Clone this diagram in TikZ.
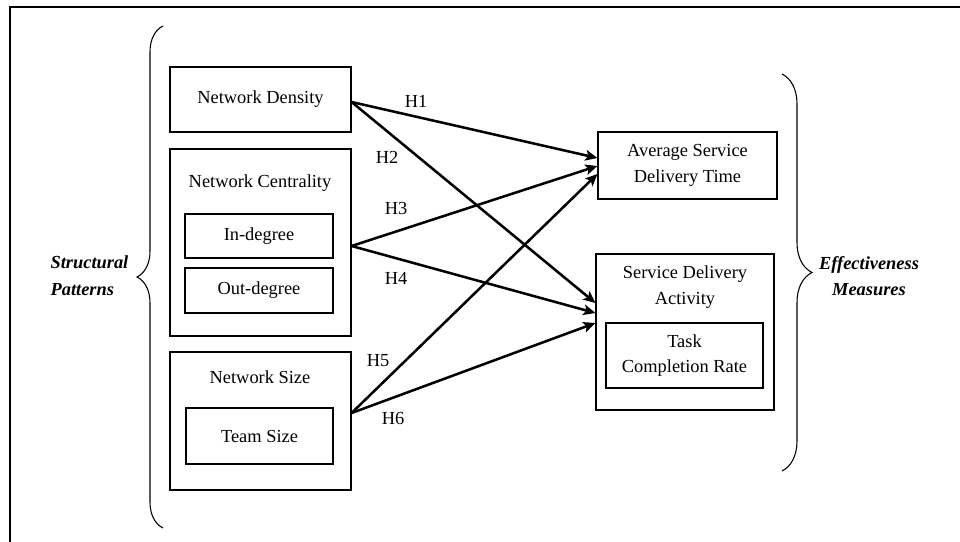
\documentclass[tikz,border=0pt]{standalone}
\usepackage{fontspec}
\setmainfont{Liberation Serif}
\usetikzlibrary{arrows.meta,calc,decorations.pathreplacing}
\begin{document}
\begin{tikzpicture}[x=0.75pt,y=0.75pt,yscale=-1,xscale=1,
  font=\fontsize{13.8}{19}\selectfont,
  box/.style={draw,line width=0.9pt,inner sep=0pt,align=center},
  lbl/.style={inner sep=0.75pt,align=center},
  hyp/.style={inner sep=0.75pt},
  arr/.style={line width=1.9pt,-{Stealth[length=9pt,width=8pt,inset=2pt]}},
  brc/.style={decorate,line width=0.8pt,decoration={brace,amplitude=#1}}]
\useasboundingbox (0,0) rectangle (960,542);

% Frame
\draw[line width=1.5pt] (960,7) -- (10,7) -- (10,542);

% Left side
\node[box,minimum width=135.75pt,minimum height=48.75pt] (dens) at (260.5,99.5) {Network Density};
\node[box,minimum width=135.75pt,minimum height=140.25pt] (cent) at (260.5,242.5) {};
\node[lbl] (centlbl) at (260,183) {Network Centrality};
\node[box,minimum width=111pt,minimum height=33pt] (indeg) at (259,236) {In-degree};
\node[box,minimum width=111pt,minimum height=33.75pt] (outdeg) at (259,290.5) {Out-degree};
\node[box,minimum width=135.75pt,minimum height=103.5pt] (size) at (260.5,421) {};
\node[lbl] (sizelbl) at (260,377) {Network Size};
\node[box,minimum width=110.25pt,minimum height=42pt] (team) at (259.5,436) {Team Size};

% Right side
\node[box,minimum width=134.25pt,minimum height=50.25pt] (avg) at (687.5,165.5) {Average Service\\Delivery Time};
\node[box,minimum width=133.5pt,minimum height=117pt] (act) at (685,332) {};
\node[lbl] (actlbl) at (685,287) {Service Delivery\\Activity};
\node[box,minimum width=117.75pt,minimum height=48.75pt] (task) at (684.5,355.5) {Task\\Completion Rate};

% Braces and group labels
\draw[brc=19.5pt] (163,528) -- (163,26);
\draw[brc=22.5pt] (782,74) -- (782,471);
\node[lbl,align=left,font=\fontsize{13.8}{20}\selectfont\bfseries\itshape] (struct) at (89.5,276) {Structural\\Patterns};
\node[lbl,font=\fontsize{13.8}{20}\selectfont\bfseries\itshape] (effect) at (869,276) {Effectiveness\\Measures};

% Hypotheses
\draw[arr] ($(dens.east)+(0,2.5)$) -- ($(avg.west)+(0,-7.5)$);
\draw[arr] ($(dens.east)+(0,2.5)$) -- ($(act.west)+(0,-29)$);
\draw[arr] ($(cent.east)+(0,3.5)$) -- ($(avg.west)+(0,0.5)$);
\draw[arr] ($(cent.east)+(0,3.5)$) -- ($(act.west)+(0,-19)$);
\draw[arr] ($(size.east)+(0,-8)$) -- ($(avg.west)+(0,8.5)$);
\draw[arr] ($(size.east)+(0,-8)$) -- ($(act.west)+(0,-9)$);

\node[hyp] (hone) at (416,101) {H1};
\node[hyp] (htwo) at (387,157) {H2};
\node[hyp] (hthree) at (396,208) {H3};
\node[hyp] (hfour) at (396,278) {H4};
\node[hyp] (hfive) at (378,361) {H5};
\node[hyp] (hsix) at (393,418) {H6};
\end{tikzpicture}
\end{document}
